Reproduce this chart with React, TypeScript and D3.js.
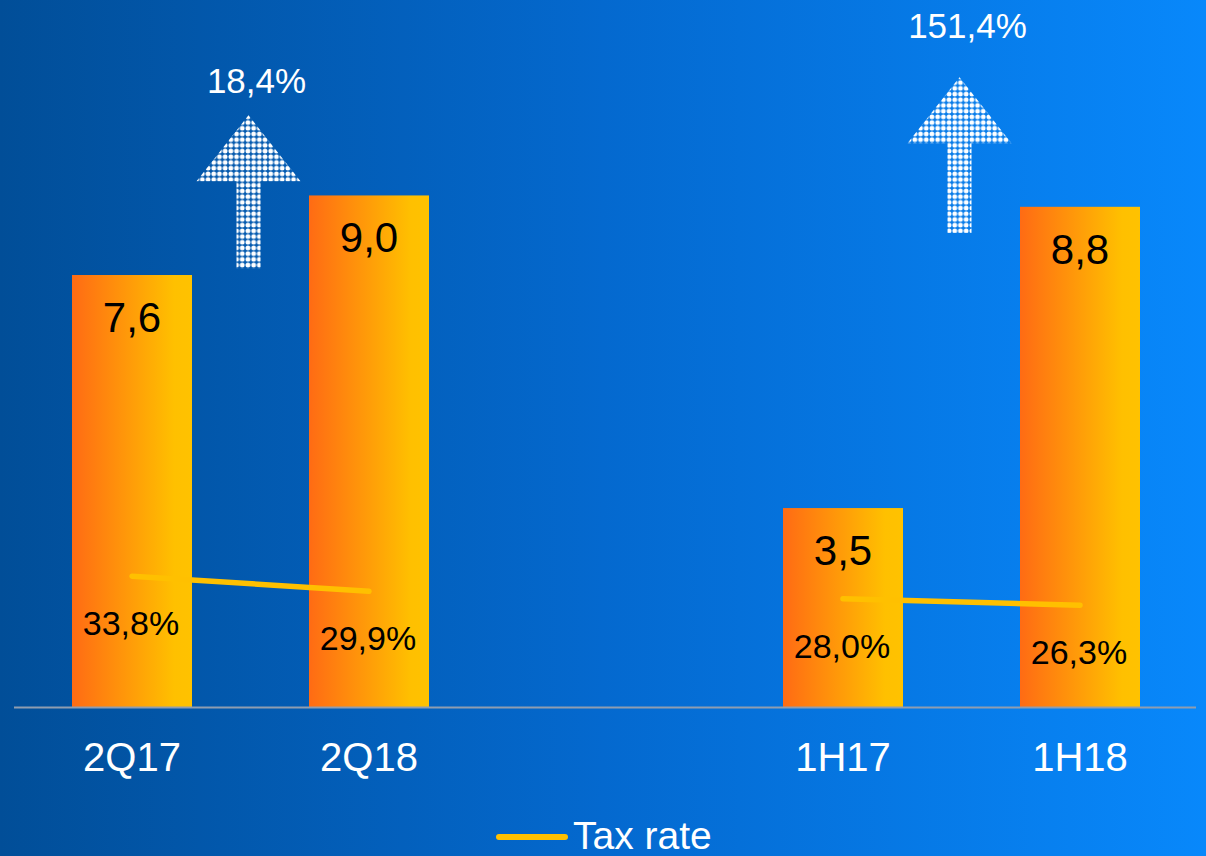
import { useEffect, useRef } from 'react';
import * as d3 from 'd3';

// chart data
const slots = ['2Q17', '2Q18', 'gap', '1H17', '1H18'];
const categories = ['2Q17', '2Q18', '1H17', '1H18'];
const netIncome = [7.6, 9.0, 3.5, 8.8];
const taxRate = [33.8, 29.9, 28.0, 26.3];
const pairs = [['2Q17', '2Q18'], ['1H17', '1H18']];
const growthLabels = ['18,4%', '151,4%'];
// arrow extent in bar units (top, bottom) and label level
const arrowTop = [10.41, 11.08];
const arrowBottom = [7.72, 8.34];
const growthLabelLevel = [10.8, 11.77];

const fmt = (v: number, d: number) => d3.format(`.${d}f`)(v).replace('.', ',');

const App = () => {
  const svgRef = useRef<SVGSVGElement | null>(null);

  useEffect(() => {
    document.body.style.margin = '0';
    const width = 1206;
    const height = 856;
    const font = '"Liberation Sans", Arial, sans-serif';

    const svg = d3.select(svgRef.current);
    svg.selectAll('*').remove();
    svg.attr('width', width).attr('height', height);

    const defs = svg.append('defs');

    const bg = defs.append('linearGradient').attr('id', 'bg').attr('x1', 0).attr('x2', 1).attr('y1', 0).attr('y2', 0);
    bg.append('stop').attr('offset', 0).attr('stop-color', '#014e98');
    bg.append('stop').attr('offset', 0.5).attr('stop-color', '#0469cf');
    bg.append('stop').attr('offset', 1).attr('stop-color', '#0888fb');

    const barGrad = defs.append('linearGradient').attr('id', 'barGrad').attr('x1', 0).attr('x2', 1).attr('y1', 0).attr('y2', 0);
    barGrad.append('stop').attr('offset', 0).attr('stop-color', '#ff6b14');
    barGrad.append('stop').attr('offset', 0.85).attr('stop-color', '#ffc000');
    barGrad.append('stop').attr('offset', 1).attr('stop-color', '#ffc200');

    // dotted fill for the growth arrows
    const dots = defs.append('pattern')
      .attr('id', 'dots')
      .attr('patternUnits', 'userSpaceOnUse')
      .attr('width', 5.7)
      .attr('height', 5.7);
    dots.append('circle').attr('cx', 2.85).attr('cy', 2.85).attr('r', 2.4).attr('fill', '#ffffff');

    svg.append('rect').attr('width', width).attr('height', height).attr('fill', 'url(#bg)');

    // scales
    const x = d3.scaleBand()
      .domain(slots)
      .range([13.5, 1198.5])
      .paddingInner(1 - 120 / 237)
      .paddingOuter((1 - 120 / 237) / 2);

    const y = d3.scaleLinear().domain([0, 10]).range([707, 138.6]);
    const y2 = d3.scaleLinear().domain([0, 100]).range([707, 320]);

    const cx = (c: string) => (x(c) as number) + x.bandwidth() / 2;

    // bars
    svg.selectAll('rect.bar')
      .data(categories)
      .enter()
      .append('rect')
      .attr('class', 'bar')
      .attr('x', d => x(d) as number)
      .attr('y', (d, i) => y(netIncome[i]))
      .attr('width', x.bandwidth())
      .attr('height', (d, i) => y(0) - y(netIncome[i]))
      .attr('fill', 'url(#barGrad)');

    // bar value labels
    svg.selectAll('text.value')
      .data(categories)
      .enter()
      .append('text')
      .attr('class', 'value')
      .attr('x', d => cx(d))
      .attr('y', (d, i) => y(netIncome[i]) + 57)
      .attr('text-anchor', 'middle')
      .style('font-family', font)
      .style('font-size', '42px')
      .attr('fill', '#000')
      .text((d, i) => fmt(netIncome[i], 1));

    // baseline
    svg.append('line')
      .attr('x1', 14)
      .attr('x2', 1196)
      .attr('y1', y(0) + 0.5)
      .attr('y2', y(0) + 0.5)
      .attr('stroke', '#8f9db0')
      .attr('stroke-width', 2);

    // tax rate lines, one per pair
    const line = d3.line<string>()
      .x(d => cx(d))
      .y(d => y2(taxRate[categories.indexOf(d)]));

    svg.selectAll('path.tax')
      .data(pairs)
      .enter()
      .append('path')
      .attr('class', 'tax')
      .attr('d', d => line(d))
      .attr('fill', 'none')
      .attr('stroke', '#ffc000')
      .attr('stroke-width', 5.5)
      .attr('stroke-linecap', 'round');

    svg.selectAll('text.tax')
      .data(categories)
      .enter()
      .append('text')
      .attr('class', 'tax')
      .attr('x', d => cx(d) - 1)
      .attr('y', (d, i) => y2(taxRate[i]) + 59)
      .attr('text-anchor', 'middle')
      .style('font-family', font)
      .style('font-size', '34px')
      .attr('fill', '#000')
      .text((d, i) => fmt(taxRate[i], 1) + '%');

    // category labels
    svg.selectAll('text.cat')
      .data(categories)
      .enter()
      .append('text')
      .attr('class', 'cat')
      .attr('x', d => cx(d))
      .attr('y', 771)
      .attr('text-anchor', 'middle')
      .style('font-family', font)
      .style('font-size', '40px')
      .attr('fill', '#ffffff')
      .text(d => d);

    // growth arrows
    pairs.forEach((p, i) => {
      const mx = (cx(p[0]) + cx(p[1])) / 2 - 2;
      const top = y(arrowTop[i]);
      const bottom = y(arrowBottom[i]);
      const headW = 52;
      const shaftW = 12;
      const headH = 66;
      const path = d3.path();
      path.moveTo(mx, top);
      path.lineTo(mx + headW, top + headH);
      path.lineTo(mx + shaftW, top + headH);
      path.lineTo(mx + shaftW, bottom);
      path.lineTo(mx - shaftW, bottom);
      path.lineTo(mx - shaftW, top + headH);
      path.lineTo(mx - headW, top + headH);
      path.closePath();
      svg.append('path')
        .attr('d', path.toString())
        .attr('fill', 'url(#dots)');

      svg.append('text')
        .attr('x', mx + 8)
        .attr('y', y(growthLabelLevel[i]))
        .attr('text-anchor', 'middle')
        .style('font-family', font)
        .style('font-size', '35px')
        .attr('fill', '#ffffff')
        .text(growthLabels[i]);
    });

    // legend
    const legend = svg.append('g').attr('transform', 'translate(499,837)');
    legend.append('line')
      .attr('x1', 0)
      .attr('x2', 66)
      .attr('stroke', '#ffc000')
      .attr('stroke-width', 6)
      .attr('stroke-linecap', 'round');
    legend.append('text')
      .attr('x', 74)
      .attr('y', 12)
      .style('font-family', font)
      .style('font-size', '39px')
      .attr('fill', '#ffffff')
      .text('Tax rate');
  }, []);

  return <svg ref={svgRef} style={{ display: 'block' }}></svg>;
};

export default App;
